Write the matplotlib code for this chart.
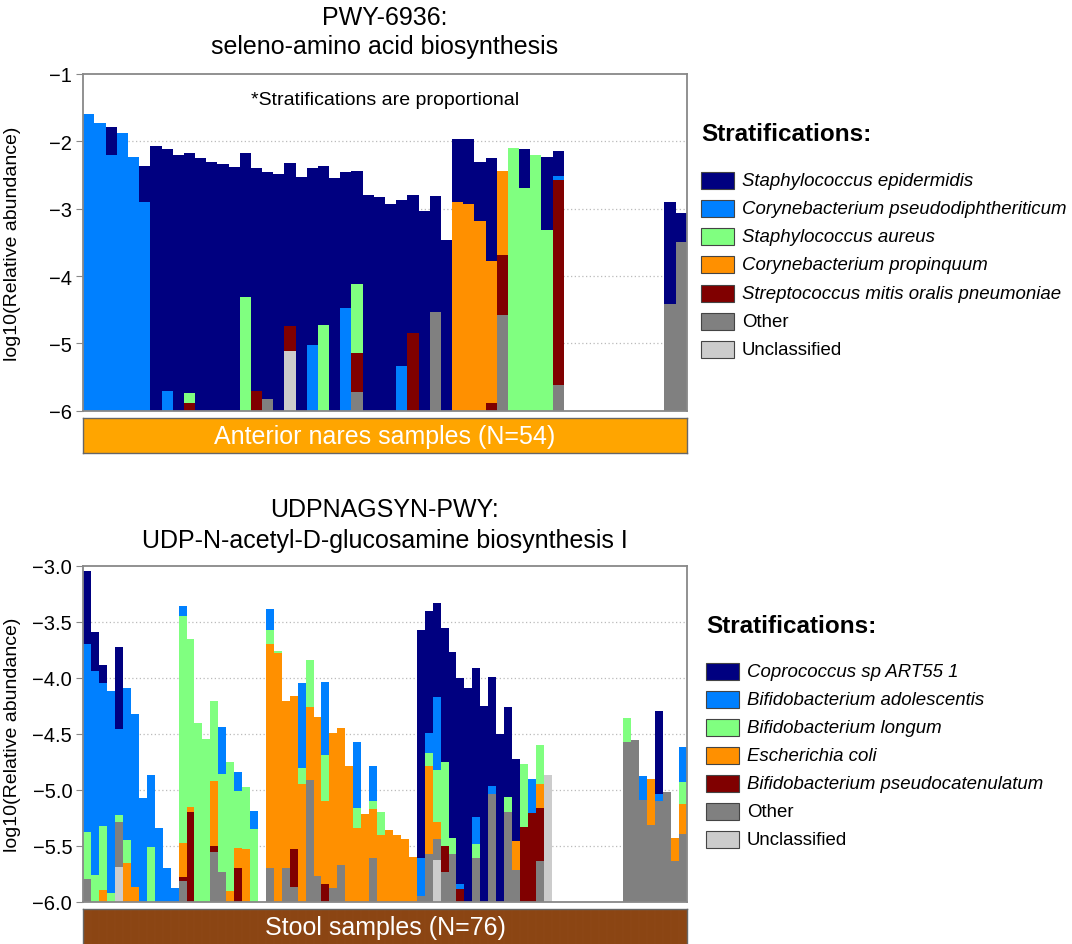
import numpy as np
import matplotlib
matplotlib.use("Agg")
import matplotlib.pyplot as plt
from matplotlib.patches import Rectangle

plt.rcParams["font.family"] = ["Liberation Sans", "DejaVu Sans"]

W, H = 1072, 945
nan = np.nan

# ---- panel 1: PWY-6936, anterior nares (log10 total per sample) ----
nares_total = [
    -1.59, -1.73, -1.78, -1.87, -2.23, -2.36, -2.07, -2.12, -2.20, -2.17,
    -2.25, -2.31, -2.33, -2.38, -2.17, -2.40, -2.45, -2.48, -2.32, -2.53,
    -2.40, -2.36, -2.55, -2.46, -2.44, -2.80, -2.83, -2.93, -2.87, -2.80,
    -3.03, -2.81, -3.46, -1.97, -1.97, -2.30, -2.24, -2.44, -2.10, -2.11,
    -2.20, -2.23, -2.15, nan, nan, nan, nan, nan, nan, nan,
    nan, nan, -2.90, -3.06,
]
# share of each bar (%) per stratum, sample index -> percent
s_epidermidis = {2: 10, 5: 15, 6: 100, 7: 92.5, 8: 100, 9: 93, 10: 100, 11: 100, 12: 100,
                 13: 100, 14: 56, 15: 92, 16: 95, 17: 100, 18: 66, 19: 100, 20: 73, 21: 65,
                 22: 100, 23: 57, 24: 47, 25: 100, 26: 100, 27: 100, 28: 79, 29: 64, 30: 100,
                 31: 54, 32: 100, 33: 23, 34: 24, 35: 24, 36: 41, 39: 15, 41: 29, 42: 9.5,
                 52: 49, 53: 15}
c_pseudodiph = {0: 100, 1: 100, 2: 90, 3: 100, 4: 100, 5: 85, 7: 7.5, 20: 27, 23: 43,
                28: 21, 42: 1.5}
s_aureus = {9: 4, 14: 44, 21: 35, 24: 29, 38: 100, 39: 85, 40: 100, 41: 71}
c_propinquum = {33: 77, 34: 76, 35: 76, 36: 56, 37: 35}
s_mitis = {9: 3, 15: 8, 18: 10, 24: 16, 29: 36, 36: 3, 37: 25, 42: 79}
nares_other = {16: 5, 24: 8, 31: 46, 37: 40, 42: 10, 52: 51, 53: 85}
nares_unclass = {18: 24}

nares_names = ["Staphylococcus epidermidis", "Corynebacterium pseudodiphtheriticum",
               "Staphylococcus aureus", "Corynebacterium propinquum",
               "Streptococcus mitis oralis pneumoniae", "Other", "Unclassified"]
nares_shares = [s_epidermidis, c_pseudodiph, s_aureus, c_propinquum, s_mitis,
                nares_other, nares_unclass]

# ---- panel 2: UDPNAGSYN-PWY, stool ----
stool_total = [
    -3.05, -3.59, -3.89, -4.12, -3.73, -4.09, -4.32, -5.07, -4.87, -5.34,
    -5.70, -5.88, -3.36, -3.65, -4.40, -4.55, -4.21, -4.44, -4.75, -4.84,
    -4.98, -5.19, nan, -3.39, -3.76, -4.21, -4.16, -4.05, -3.84, -4.35,
    -4.04, -4.49, -4.45, -4.79, -4.57, -5.22, -4.79, -5.20, -5.36, -5.40,
    -5.44, -5.60, -3.57, -3.40, -3.33, -3.56, -3.77, -4.00, -4.09, -3.91,
    -4.25, -3.99, -4.50, -4.26, -4.73, -4.77, -4.90, -4.60, -4.87, nan,
    nan, nan, nan, nan, nan, nan, nan, nan, -4.36, -4.56,
    -4.88, -4.90, -4.30, -5.02, -5.43, -4.62,
]
coprococcus = {0: 22, 1: 14.5, 2: 7.5, 4: 32, 42: 84, 43: 42, 44: 31.5, 45: 49, 46: 74.5,
               47: 92, 48: 100, 49: 64, 50: 100, 51: 48.5, 52: 100, 53: 46.5, 54: 57,
               72: 43.5}
b_adolescentis = {0: 57, 1: 75.5, 2: 60.5, 3: 96, 4: 34, 5: 71, 6: 92, 7: 100, 8: 57,
                  9: 100, 10: 100, 11: 100, 12: 3.5, 17: 27, 19: 14.5, 21: 20, 23: 7,
                  27: 39, 30: 33, 34: 41.5, 36: 25.5, 42: 14, 43: 7, 44: 24.5, 47: 2.5,
                  49: 11.5, 51: 3.5, 56: 28, 70: 19, 72: 3.5, 75: 22.5}
b_longum = {0: 14, 1: 10, 2: 27, 3: 4, 4: 2.5, 5: 11, 8: 43, 12: 76.5, 13: 64, 14: 100,
            15: 100, 16: 40, 17: 56, 18: 92, 19: 44, 20: 54, 21: 80, 23: 5, 24: 1, 27: 7,
            28: 19.5, 30: 21, 34: 12.5, 36: 6, 37: 26, 43: 4.5, 44: 17.5, 45: 30.5,
            46: 6.5, 49: 6, 53: 7.5, 55: 45.5, 57: 25, 68: 13, 75: 14.5}
e_coli = {2: 5, 5: 18, 6: 8, 12: 11.5, 13: 2, 16: 32, 18: 8, 19: 15.5, 20: 46, 23: 76.5,
          24: 99, 25: 83, 26: 74.5, 27: 54, 28: 30, 29: 86, 30: 38, 31: 92, 32: 79,
          33: 100, 34: 46, 35: 100, 36: 36.5, 37: 74, 38: 100, 39: 100, 40: 100, 41: 100,
          43: 30, 44: 5.5, 54: 21, 57: 15, 71: 38, 74: 37, 75: 19.5}
b_pseudocat = {12: 1.5, 13: 34, 16: 3, 19: 26, 26: 18.5, 30: 8, 45: 9.5, 47: 5.5,
               55: 54.5, 56: 72, 57: 34}
stool_other = {0: 7, 4: 18, 12: 7, 16: 25, 17: 17, 23: 11.5, 25: 17, 26: 7, 28: 50.5,
               29: 14, 31: 8, 32: 21, 36: 32, 42: 2, 43: 16.5, 44: 7, 45: 11, 46: 19,
               49: 18.5, 51: 48, 53: 46, 54: 22, 57: 26, 68: 87, 69: 100, 70: 81, 71: 62,
               72: 53, 73: 100, 74: 63, 75: 43.5}
stool_unclass = {4: 13.5, 44: 14, 58: 100}

stool_names = ["Coprococcus sp ART55 1", "Bifidobacterium adolescentis",
               "Bifidobacterium longum", "Escherichia coli",
               "Bifidobacterium pseudocatenulatum", "Other", "Unclassified"]
stool_shares = [coprococcus, b_adolescentis, b_longum, e_coli, b_pseudocat,
                stool_other, stool_unclass]

colors = ["#000080", "#0080ff", "#80ff80", "#ff9000", "#800000", "#808080", "#cccccc"]


def px_axes(x0, y0, x1, y1):
    # pixel box (top-left origin) -> figure axes
    return fig.add_axes([x0 / W, 1 - y1 / H, (x1 - x0) / W, (y1 - y0) / H])


def draw_panel(ax, totals, shares, ymin, ymax, ticks, fmt):
    totals = np.array(totals, dtype=float)
    n = len(totals)
    x = np.arange(n)
    full = np.where(np.isnan(totals), 0, totals - ymin)
    base = np.full(n, ymin)
    # stack bottom-up in reverse legend order, proportional split of the bar
    for share, col in list(zip(shares, colors))[::-1]:
        frac = np.zeros(n)
        for k, v in share.items():
            frac[k] = v / 100.0
        h = full * frac
        ax.bar(x, h, bottom=base, width=1.0, align="edge", color=col, linewidth=0)
        base = base + h
    ax.set_xlim(0, n)
    ax.set_ylim(ymin, ymax)
    ax.set_yticks(ticks)
    ax.set_yticklabels([fmt.format(t).replace("-", "\u2212") for t in ticks])
    ax.set_xticks([])
    for t in ticks[1:-1]:
        ax.axhline(t, color="#bbbbbb", linestyle=(0, (1, 2)), linewidth=0.9, zorder=0)
    ax.set_axisbelow(True)
    for sp in ax.spines.values():
        sp.set_color("#888888")
        sp.set_linewidth(1.3)
    ax.tick_params(axis="y", labelsize=14.5, length=5, color="#888888", pad=3)
    ax.set_ylabel("log10(Relative abundance)", fontsize=14)
    ax.yaxis.set_label_coords(-0.104, 0.5)


def draw_band(x0, y0, x1, y1, color, text, n, cell_edge=None):
    bax = px_axes(x0, y0, x1, y1)
    bax.set_xlim(0, n)
    bax.set_ylim(0, 1)
    if cell_edge:
        bax.bar(np.arange(n), np.ones(n), width=1.0, align="edge", color=color,
                edgecolor=cell_edge, linewidth=0.25)
    else:
        bax.set_facecolor(color)
    bax.set_xticks([])
    bax.set_yticks([])
    for sp in bax.spines.values():
        sp.set_color("#666666")
        sp.set_linewidth(1.0)
    bax.text(0.5, 0.5, text, transform=bax.transAxes, ha="center", va="center",
             color="white", fontsize=18)


def draw_legend(x, ytitle, yfirst, step, names):
    fig.text(x / W, 1 - ytitle / H, "Stratifications:", fontsize=17.5, fontweight="bold",
             ha="left", va="center")
    for i, (name, col) in enumerate(zip(names, colors)):
        yc = yfirst + i * step
        fig.add_artist(Rectangle((x / W, 1 - (yc + 8.5) / H), 33 / W, 17 / H,
                                 transform=fig.transFigure, facecolor=col,
                                 edgecolor="#444444", linewidth=0.8))
        style = "normal" if name in ("Other", "Unclassified") else "italic"
        fig.text((x + 41) / W, 1 - yc / H, name, fontsize=13.4, style=style,
                 ha="left", va="center")


fig = plt.figure(figsize=(W / 100, H / 100), dpi=100)

# top panel
ax1 = px_axes(83.3, 75, 686.7, 411.7)
draw_panel(ax1, nares_total, nares_shares, -6, -1, [-6, -5, -4, -3, -2, -1], "{:.0f}")
ax1.text(0.5, 0.925, "*Stratifications are proportional", transform=ax1.transAxes,
         ha="center", va="center", fontsize=14)
fig.text(385 / W, 1 - 18 / H, "PWY-6936:", ha="center", va="center", fontsize=18)
fig.text(385 / W, 1 - 47 / H, "seleno-amino acid biosynthesis", ha="center",
         va="center", fontsize=18)
draw_band(83.3, 419.3, 686.7, 454.3, "#ffa500", "Anterior nares samples (N=54)", 54)
draw_legend(701, 135, 181, 28.33, nares_names)

# bottom panel
ax2 = px_axes(83.3, 566.7, 686.7, 902.7)
draw_panel(ax2, stool_total, stool_shares, -6, -3,
           [-6.0, -5.5, -5.0, -4.5, -4.0, -3.5, -3.0], "{:.1f}")
fig.text(385 / W, 1 - 510 / H, "UDPNAGSYN-PWY:", ha="center", va="center", fontsize=18)
fig.text(385 / W, 1 - 541 / H, "UDP-N-acetyl-D-glucosamine biosynthesis I", ha="center",
         va="center", fontsize=18)
draw_band(83.3, 910, 686.7, 947, "#8b4513", "Stool samples (N=76)", 76,
          cell_edge="#914b1a")
draw_legend(706, 627, 672.3, 28.1, stool_names)

fig.savefig("out.png", dpi=100)
